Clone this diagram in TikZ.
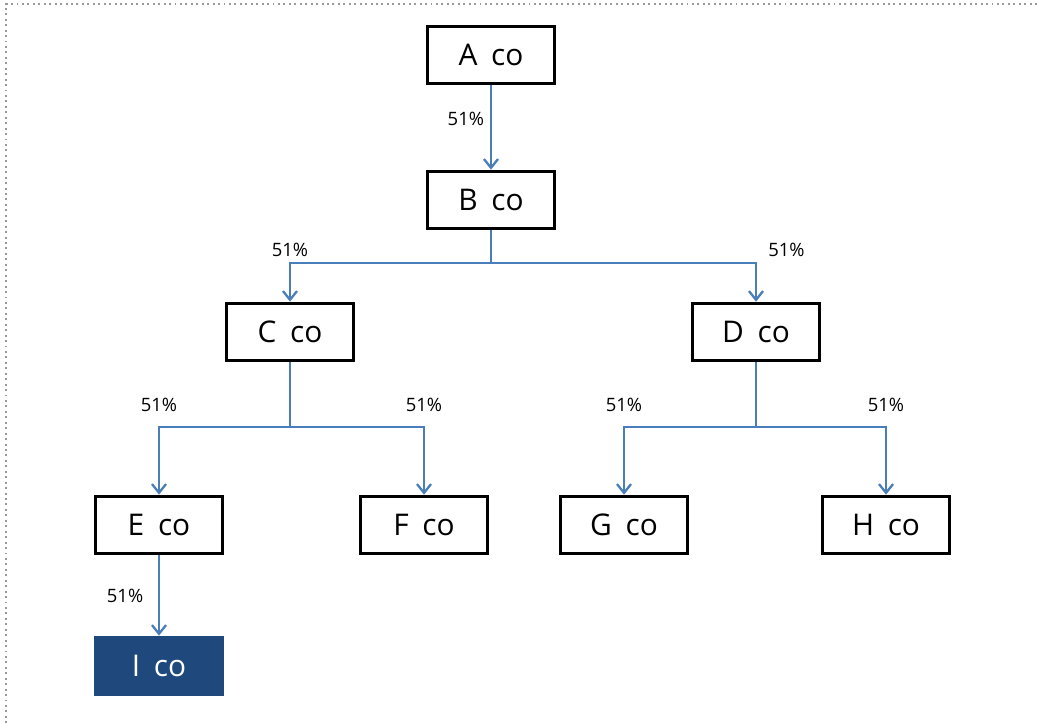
\documentclass[tikz,border=0pt]{standalone}
\usepackage{fontspec}
\setmainfont{Open Sans}
\usepackage{xcolor}
\usetikzlibrary{arrows.meta}
\definecolor{linkblue}{RGB}{74,126,187}
\definecolor{boxnavy}{RGB}{31,73,125}
\colorlet{framegray}{black!40}
\newcommand\coname[1]{#1\hspace{.2em} co}
\tikzstyle{co}=[draw=black,line width=1.8pt,fill=white,minimum width=2.54cm,minimum height=1.15cm,font=\fontsize{17}{20}\selectfont]
\tikzstyle{cosel}=[co,draw=boxnavy,fill=boxnavy,text=white]
\tikzstyle{own}=[draw=linkblue,line width=1.3pt,-{Straight Barb[length=5pt,width=8pt]}]
\tikzstyle{pct}=[font=\fontsize{10.5}{12}\selectfont]

\begin{document}
\begin{tikzpicture}[x=0.02cm,y=-0.02cm]
  \useasboundingbox (0,0) rectangle (1037,723);
  \draw[framegray,line width=1.1pt,dash pattern=on 1.1pt off 2pt] (1037,4) -- (6,4) -- (6,723);
  \node[co] (A) at (491,55) {\coname{A}};
  \node[co] (B) at (491,200) {\coname{B}};
  \node[co] (C) at (290,332) {\coname{C}};
  \node[co] (D) at (756,332) {\coname{D}};
  \node[co] (E) at (159,525) {\coname{E}};
  \node[co] (F) at (424,525) {\coname{F}};
  \node[co] (G) at (624,525) {\coname{G}};
  \node[co] (H) at (886,525) {\coname{H}};
  \node[cosel] (I) at (159,666) {\coname{I}};
  \draw[own] (A) -- node[pct,left,pos=0.4] {51\%} (B);
  \draw[own] (B.south) -- ++(0,33) -| node[pct,above,pos=0.5] {51\%} (C.north);
  \draw[own] (B.south) -- ++(0,33) -| node[pct,above right,pos=0.5,xshift=3pt] {51\%} (D.north);
  \draw[own] (C.south) -- ++(0,65) -| node[pct,above,pos=0.5,yshift=5pt] {51\%} (E.north);
  \draw[own] (C.south) -- ++(0,65) -| node[pct,above,pos=0.5,yshift=5pt] {51\%} (F.north);
  \draw[own] (D.south) -- ++(0,65) -| node[pct,above,pos=0.5,yshift=5pt] {51\%} (G.north);
  \draw[own] (D.south) -- ++(0,65) -| node[pct,above,pos=0.5,yshift=5pt] {51\%} (H.north);
  \draw[own] (E) -- node[pct,left,xshift=-5pt] {51\%} (I);
\end{tikzpicture}
\end{document}
